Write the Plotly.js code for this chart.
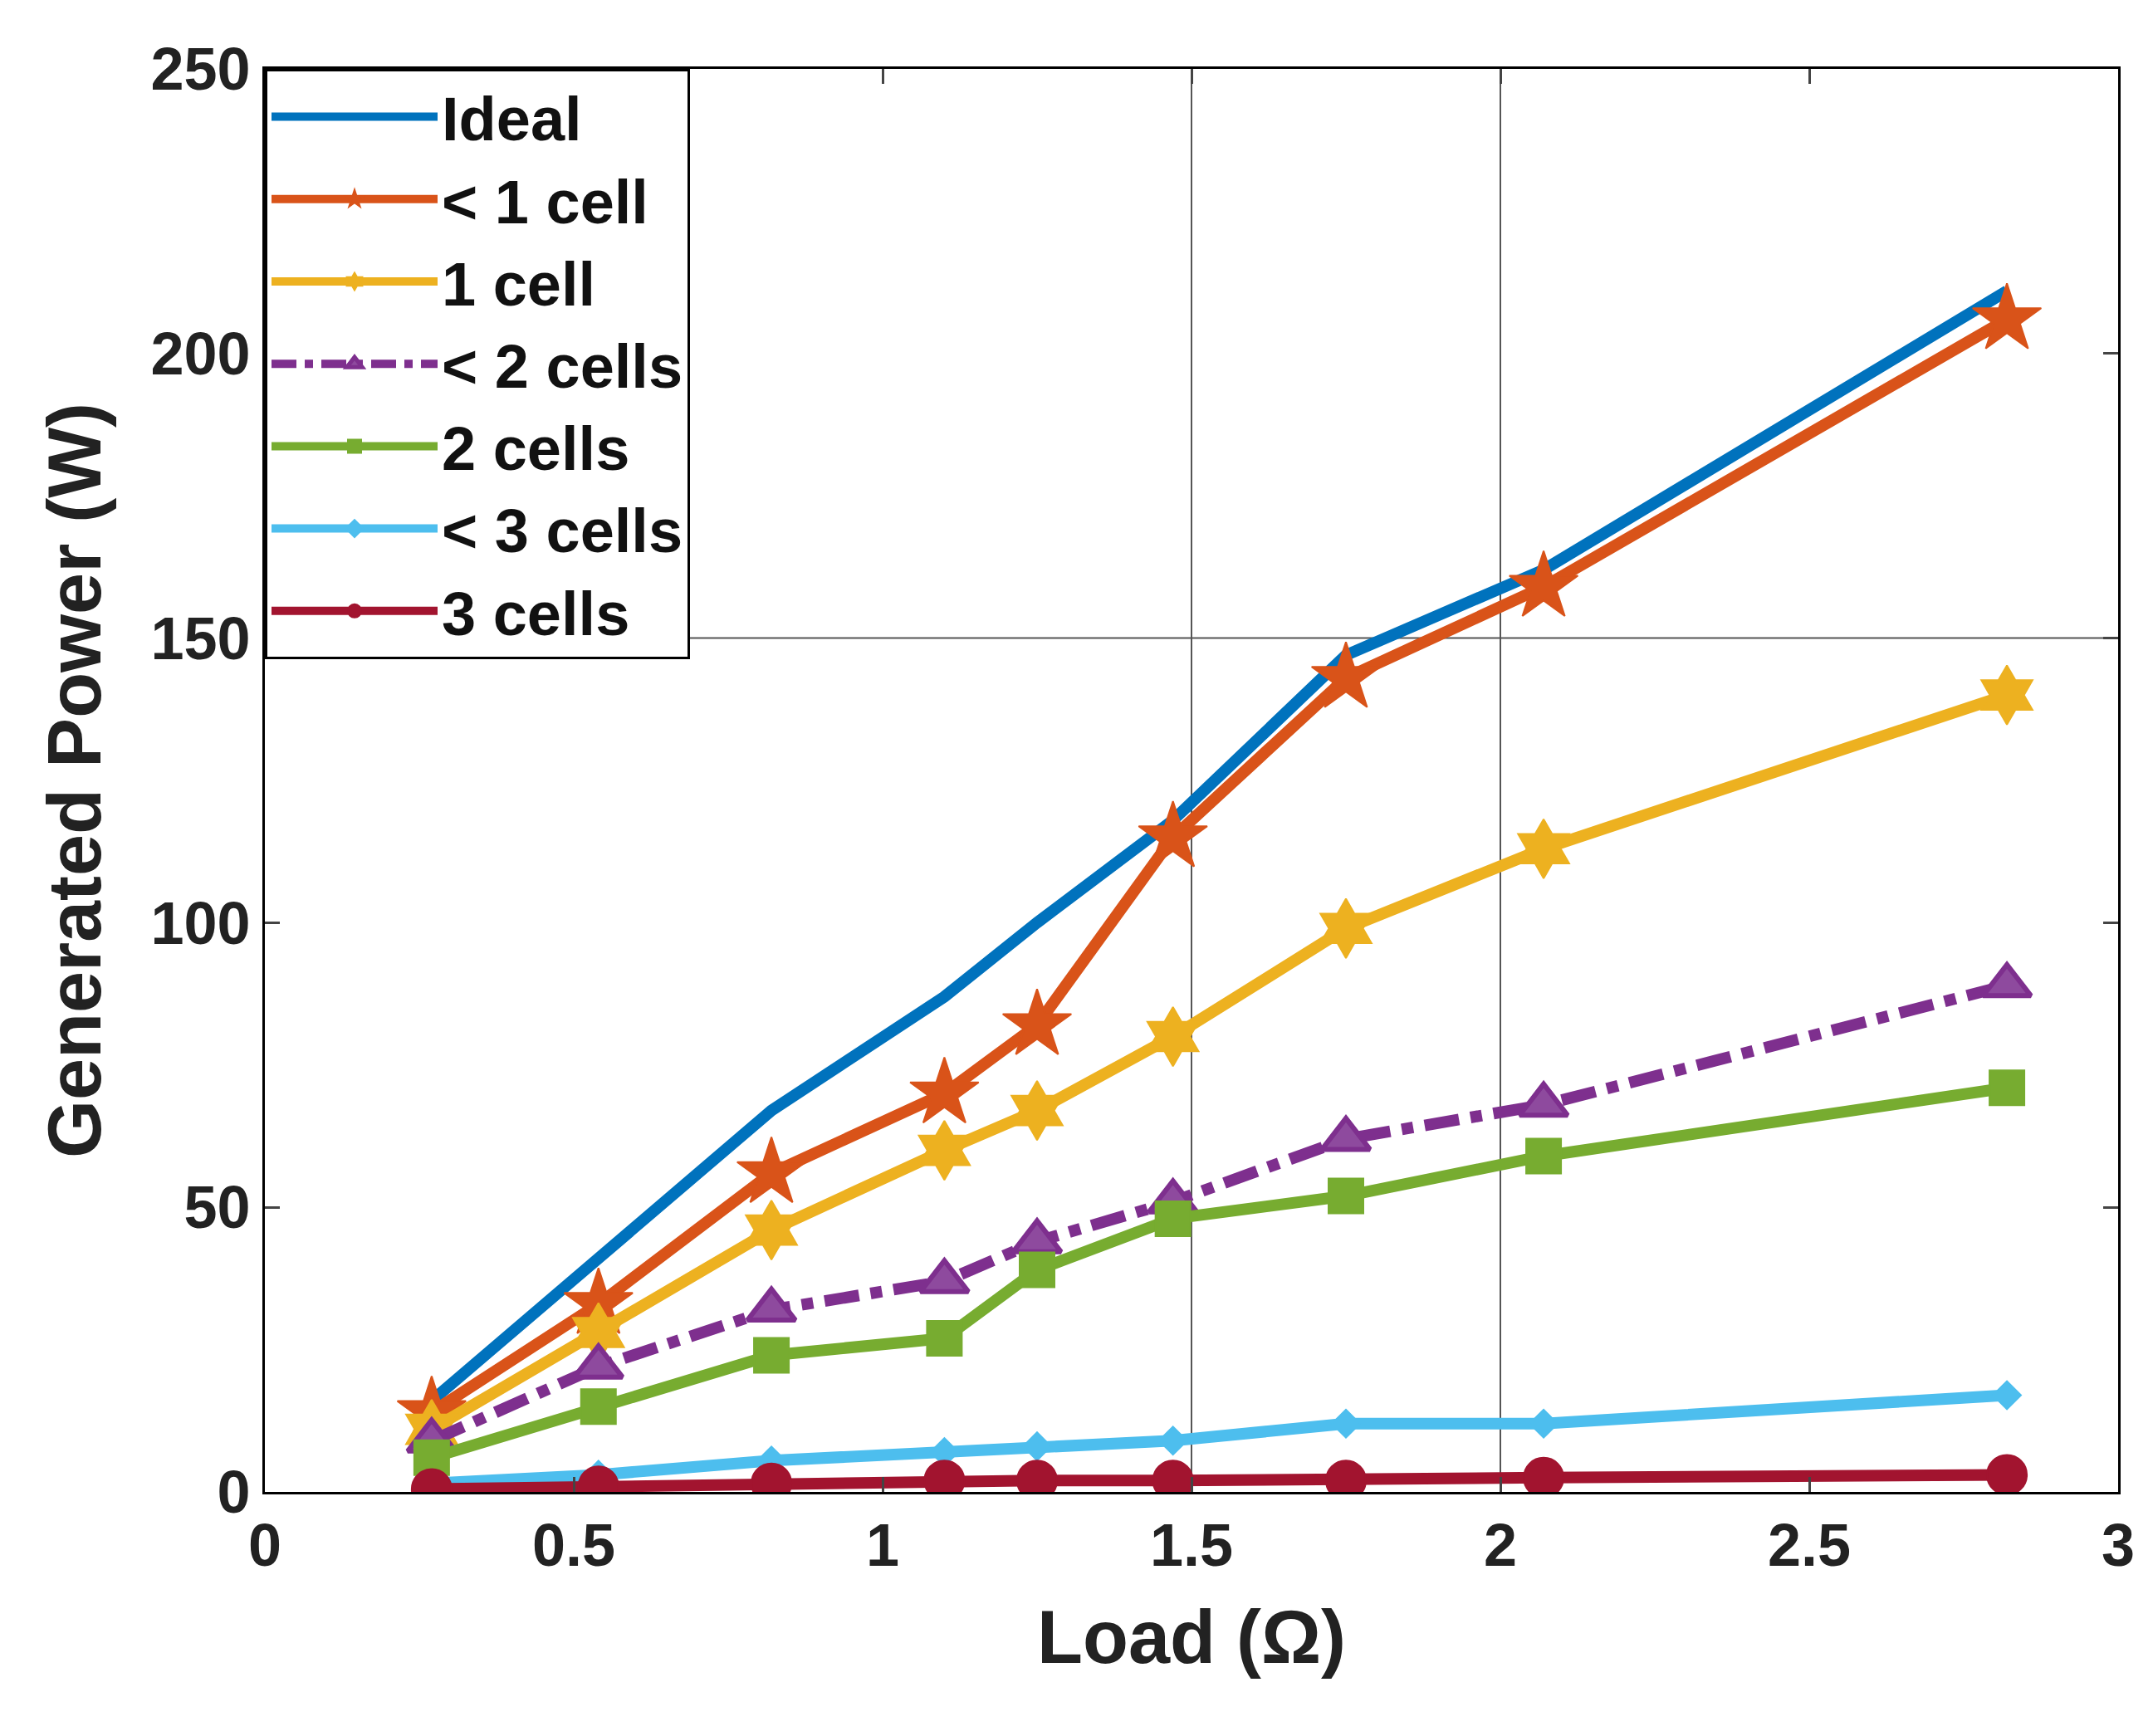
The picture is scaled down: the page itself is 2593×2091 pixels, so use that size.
<!DOCTYPE html>
<html><head><meta charset="utf-8">
<script src="https://cdn.plot.ly/plotly-3.0.1.min.js"></script>
<style>body{margin:0;background:#fff}#plot{width:2593px;height:2091px}</style>
</head><body><div id="plot"></div>
<script>
var loads = [0.27, 0.54, 0.82, 1.1, 1.25, 1.47, 1.75, 2.07, 2.82];
var ideal = [16, 41, 67, 87, 100, 118, 147, 162, 211];
var lt1 = [14, 33, 56, 70, 82, 115, 143, 159, 206];
var one = [11, 28, 46, 60, 67, 80, 99, 113, 140];
var lt2 = [9, 22, 32, 37, 44, 51, 62, 68, 89];
var two = [6, 15, 24, 27, 39, 48, 52, 59, 71];
var lt3 = [1.5, 3, 5.5, 7, 8, 9, 12, 12, 17];
var three = [0.5, 1, 1.5, 2, 2, 2, 2, 2.5, 3];

function tr(name, y, color, sym, size, dash) {
  var t = {x: loads, y: y, name: name, type: "scatter",
    mode: sym ? "lines+markers" : "lines",
    line: {color: color, width: 14, dash: dash || "solid"}};
  if (sym) t.marker = {symbol: sym, size: size, color: color, line: {color: color, width: 2}};
  return t;
}
var data = [
  tr("Ideal", ideal, "#0072BD"),
  tr("< 1 cell", lt1, "#D95319", "star", 62),
  tr("1 cell", one, "#EDB120", "hexagram", 54),
  tr("< 2 cells", lt2, "#7E2F8E", "triangle-up", 50, "dashdot"),
  tr("2 cells", two, "#77AC30", "square", 42),
  tr("< 3 cells", lt3, "#4DBEEE", "diamond", 26),
  tr("3 cells", three, "#A2142F", "circle", 48)
];
data[3].marker.color = "#8E4A9E";
data[3].marker.line.width = 6;
var ax = {showgrid: false, zeroline: false, ticks: "inside", ticklen: 18, tickwidth: 3,
  showline: true, linecolor: "#000", linewidth: 3, mirror: "ticks",
  tickfont: {size: 72, color: "#222"}};
var layout = {
  margin: {l: 319, r: 42, t: 83, b: 294},
  paper_bgcolor: "#fff", plot_bgcolor: "#fff",
  font: {family: "Liberation Sans, Arial, sans-serif", color: "#222", weight: "bold"},
  xaxis: Object.assign({}, ax, {range: [0, 3], dtick: 0.5,
    title: {text: "<b>Load (Ω)</b>", font: {size: 90}, standoff: 40}}),
  yaxis: Object.assign({}, ax, {range: [0, 250], dtick: 50,
    title: {text: "<b>Generated Power (W)</b>", font: {size: 90}, standoff: 30}}),
  shapes: [
    {type: "line", xref: "x", yref: "paper", x0: 1.5, x1: 1.5, y0: 0, y1: 1, line: {color: "#555", width: 2}, layer: "below"},
    {type: "line", xref: "x", yref: "paper", x0: 2, x1: 2, y0: 0, y1: 1, line: {color: "#555", width: 2}, layer: "below"},
    {type: "line", xref: "paper", yref: "y", x0: 0, x1: 1, y0: 150, y1: 150, line: {color: "#555", width: 2}, layer: "below"}
  ],
  legend: {x: 0, y: 1, xanchor: "left", yanchor: "top", bgcolor: "#fff",
    bordercolor: "#000", borderwidth: 3, font: {size: 74, color: "#111"},
    itemwidth: 200, tracegroupgap: 0},
  showlegend: true
};
Plotly.newPlot("plot", data, layout, {displayModeBar: false});
</script></body></html>
